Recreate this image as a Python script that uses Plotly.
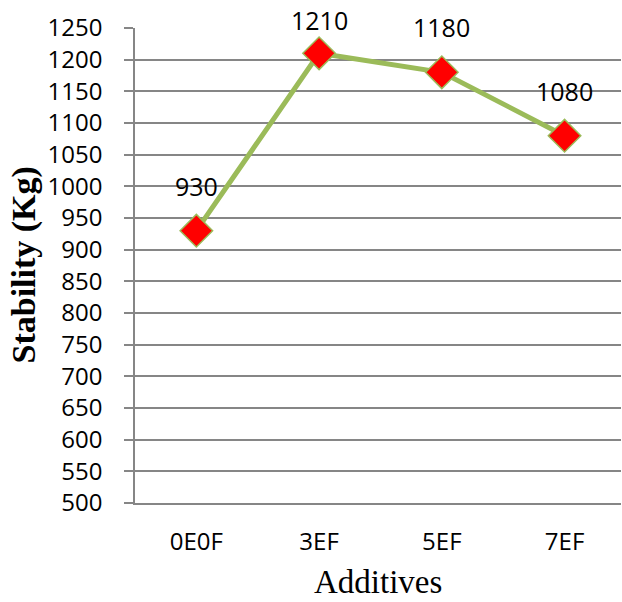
import plotly.graph_objects as go

categories = ["0E0F", "3EF", "5EF", "7EF"]
stability = [930, 1210, 1180, 1080]
label_shift = [45, 33, 45, 45]
y_ticks = list(range(500, 1251, 50))

LINE = "#9BBB59"
GRID = "#868686"
TICKFONT = dict(family="Open Sans", size=24, color="black")
LABELFONT = dict(family="Open Sans", size=25, color="black")

fig = go.Figure()
fig.add_trace(go.Scatter(
    x=categories, y=stability, mode="lines+markers",
    line=dict(color=LINE, width=5),
    marker=dict(symbol="diamond", size=25, color="#FF0000",
                line=dict(color=LINE, width=1.5)),
    showlegend=False, hoverinfo="skip",
))

for c, v, s in zip(categories, stability, label_shift):
    fig.add_annotation(x=c, y=v, text=str(v), showarrow=False,
                       yshift=s, font=LABELFONT, xanchor="center", yanchor="middle")

fig.add_annotation(text="<b>Stability (Kg)</b>", xref="paper", yref="paper", x=0, y=0.5,
                   xshift=-112, textangle=-90, showarrow=False,
                   font=dict(family="Liberation Serif", size=34, color="black"),
                   xanchor="center", yanchor="middle")
fig.add_annotation(text="Additives", xref="paper", yref="paper", x=0.5, y=0,
                   yshift=-79, showarrow=False,
                   font=dict(family="Liberation Serif", size=33, color="black"),
                   xanchor="center", yanchor="middle")

fig.update_layout(
    width=622, height=602,
    margin=dict(l=135, r=1, t=28, b=99),
    paper_bgcolor="white", plot_bgcolor="white",
    xaxis=dict(type="category", range=[-0.5, 3.46], showgrid=False,
               showline=True, linecolor=GRID, linewidth=1.6,
               zeroline=False, ticks="",
               tickfont=TICKFONT, ticklabelstandoff=16),
    yaxis=dict(range=[500, 1250], tickvals=y_ticks, showgrid=True,
               gridcolor=GRID, gridwidth=1.6, showline=True, linecolor=GRID,
               linewidth=1.6, ticks="outside", ticklen=9, tickcolor=GRID,
               tickwidth=1.6, zeroline=False, tickfont=TICKFONT,
               ticklabelstandoff=17),
)

fig.write_html("out.html")
